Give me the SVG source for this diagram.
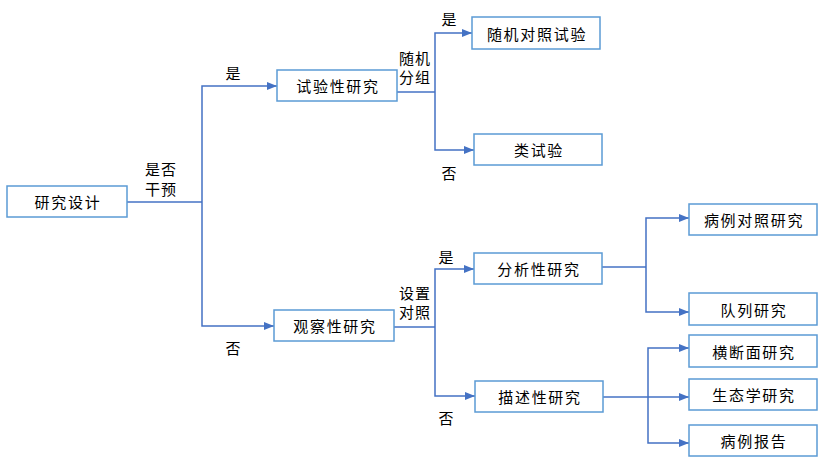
<svg xmlns="http://www.w3.org/2000/svg" width="828" height="465" viewBox="0 0 828 465">
<defs>
<style>
.box{fill:#fff;stroke:#5b9bd5;stroke-width:1.5}
.t{font-family:"Noto Sans CJK SC","Liberation Sans",sans-serif;font-size:15px;fill:#000;text-anchor:middle;dominant-baseline:central}
.n{letter-spacing:1.7px}
.l{letter-spacing:1px}
.c{fill:none;stroke:#4472c4;stroke-width:1.5}
</style>
<marker id="ar" markerUnits="userSpaceOnUse" markerWidth="10" markerHeight="10" viewBox="0 0 10 10" refX="10" refY="5" orient="auto">
<path d="M0,1 L10,5 L0,9 Z" fill="#4472c4"/>
</marker>
</defs>
<rect width="828" height="465" fill="#fff"/>
<g id="connectors">
<path class="c" d="M127,202 H202"/>
<path class="c" d="M202,202 V86 H277" marker-end="url(#ar)"/>
<path class="c" d="M202,202 V326 H274" marker-end="url(#ar)"/>
<path class="c" d="M397,92 H435"/>
<path class="c" d="M435,92 V33 H472" marker-end="url(#ar)"/>
<path class="c" d="M435,92 V150 H474" marker-end="url(#ar)"/>
<path class="c" d="M394,327 H435"/>
<path class="c" d="M435,327 V269 H474" marker-end="url(#ar)"/>
<path class="c" d="M435,327 V396 H475" marker-end="url(#ar)"/>
<path class="c" d="M602,267 H646"/>
<path class="c" d="M646,267 V218 H689" marker-end="url(#ar)"/>
<path class="c" d="M646,267 V312 H689" marker-end="url(#ar)"/>
<path class="c" d="M603,397 H689" marker-end="url(#ar)"/>
<path class="c" d="M648,397 V348 H689" marker-end="url(#ar)"/>
<path class="c" d="M648,397 V443 H689" marker-end="url(#ar)"/>
</g>
<g id="labels">
<text class="t l" x="161" y="168">是否</text>
<text class="t l" x="161" y="188">干预</text>
<text class="t" x="233" y="72">是</text>
<text class="t" x="233" y="347">否</text>
<text class="t l" x="415" y="57">随机</text>
<text class="t l" x="415" y="76">分组</text>
<text class="t" x="449" y="18">是</text>
<text class="t" x="449" y="172">否</text>
<text class="t l" x="415" y="292">设置</text>
<text class="t l" x="415" y="311">对照</text>
<text class="t" x="446" y="256">是</text>
<text class="t" x="446" y="417">否</text>
</g>
<g id="n-design"><rect class="box" x="7" y="186" width="120" height="31"/><text class="t n" x="68" y="201.5">研究设计</text></g>
<g id="n-exp"><rect class="box" x="277" y="70" width="120" height="31"/><text class="t n" x="338" y="85.5">试验性研究</text></g>
<g id="n-rct"><rect class="box" x="472" y="17" width="128" height="32"/><text class="t n" x="537" y="33">随机对照试验</text></g>
<g id="n-quasi"><rect class="box" x="474" y="134" width="128" height="31"/><text class="t n" x="539" y="149.5">类试验</text></g>
<g id="n-obs"><rect class="box" x="274" y="310" width="120" height="31"/><text class="t n" x="335" y="325.5">观察性研究</text></g>
<g id="n-anal"><rect class="box" x="474" y="253" width="128" height="31"/><text class="t n" x="539" y="268.5">分析性研究</text></g>
<g id="n-desc"><rect class="box" x="475" y="381" width="128" height="31"/><text class="t n" x="540" y="396.5">描述性研究</text></g>
<g id="n-cc"><rect class="box" x="689" y="204" width="128" height="31"/><text class="t n" x="754" y="219.5">病例对照研究</text></g>
<g id="n-cohort"><rect class="box" x="689" y="293" width="128" height="32"/><text class="t n" x="754" y="309">队列研究</text></g>
<g id="n-cross"><rect class="box" x="689" y="335" width="128" height="32"/><text class="t n" x="754" y="351">横断面研究</text></g>
<g id="n-eco"><rect class="box" x="689" y="379" width="128" height="31"/><text class="t n" x="754" y="394.5">生态学研究</text></g>
<g id="n-case"><rect class="box" x="689" y="425" width="128" height="31"/><text class="t n" x="754" y="440.5">病例报告</text></g>
</svg>
